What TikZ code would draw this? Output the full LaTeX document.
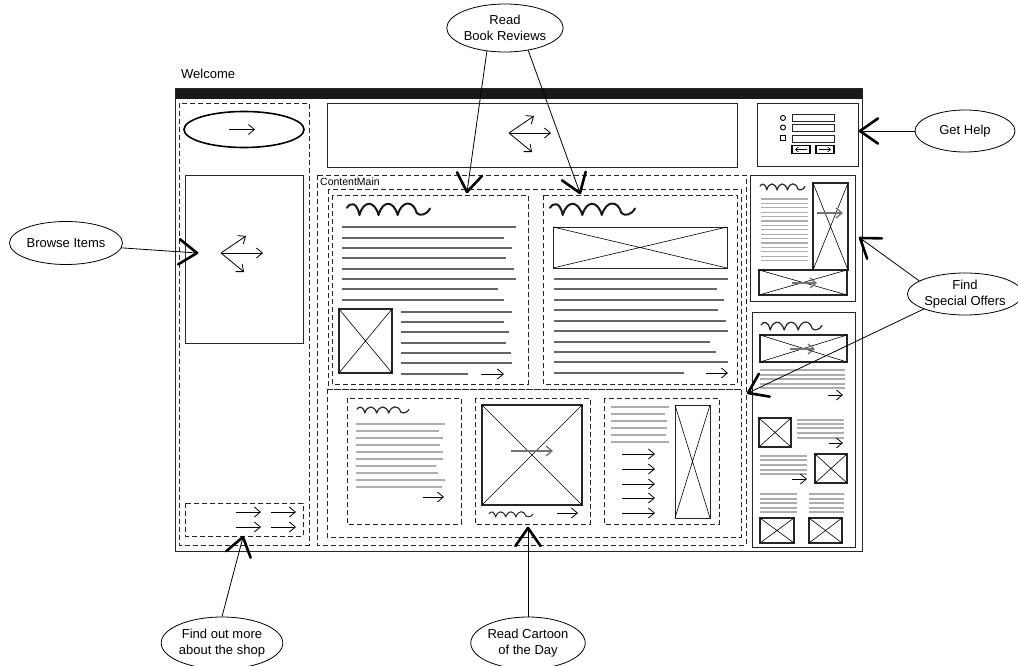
\documentclass[tikz,border=0pt]{standalone}
\usepackage{fontspec}
\setmainfont{Liberation Sans}
\usetikzlibrary{arrows.meta,shapes.geometric,calc}
\newcommand\squig[6]{\begin{scope}[shift={(#1,#2)},x=#3pt,y=-#4pt]
\draw[line width=#5,#6,line cap=round,line join=round]
 (0,0.45) .. controls (0.04,0.0) and (0.12,0.0) .. (0.15,1)
 .. controls (0.2,-0.15) and (0.33,-0.15) .. (0.38,1)
 .. controls (0.43,-0.15) and (0.56,-0.15) .. (0.61,1)
 .. controls (0.66,-0.15) and (0.8,-0.15) .. (0.84,0.85)
 .. controls (0.88,1.1) and (0.96,1.0) .. (1,0.5);
\end{scope}}
\newcommand\ximg[5]{\draw[line width=#5,draw=black!85] (#1,#2) rectangle (#3,#4);
\draw[line width=0.6pt] (#1,#2) -- (#3,#4) (#1,#4) -- (#3,#2);}
\newcommand\navcl[2]{\draw[sarr] (#1,#2) -- ++(42,0);
\draw[sarr] (#1,#2) -- ++(25,-17);
\draw[sarr] (#1,#2) -- ++(23,19);}
\newcommand\conn[2]{\draw[line width=0.8pt] (#1) -- (#2);
\draw[line width=2.6pt,line cap=round,line join=round]
  ($(#2)!22pt!35:(#1)$) -- (#2) -- ($(#2)!22pt!-35:(#1)$);}
\begin{document}
\begin{tikzpicture}[x=1pt,y=-1pt,
  sbox/.style={draw=black!85,line width=0.9pt},
  dbox/.style={draw=black!85,line width=0.9pt,dash pattern=on 5pt off 3pt},
  txt/.style={line width=1.9pt,draw=black!60},
  ltxt/.style={line width=1.2pt,draw=black!32},
  sarr/.style={-{Straight Barb[length=6pt,width=10pt]},line width=0.8pt},
  garr/.style={-{Straight Barb[length=6pt,width=10pt]},line width=1.3pt,draw=black!55},
  uc/.style={ellipse,draw,line width=0.8pt,align=center,inner sep=0pt,
     font=\fontsize{13}{16}\selectfont},
]
\useasboundingbox (0,0) rectangle (1018,666);

% window
\node[anchor=base west,inner sep=0pt,font=\fontsize{13}{16}\selectfont] (welcome) at (181,79) {Welcome};
\fill[black!90] (175,88) rectangle (862,99);
\draw[sbox] (175,88) rectangle (862,551);

% left column
\draw[dbox] (179,103) rectangle (309,545);
\draw[line width=1.6pt] (244,129.5) ellipse [x radius=60, y radius=18];
\draw[sarr] (229,129.5) -- (255,129.5);
\draw[sbox] (185,175) rectangle (303,343);
\navcl{221}{253}
\draw[dbox] (185,503) rectangle (303,536);
\draw[sarr] (236,512) -- (261,512);
\draw[sarr] (271,512) -- (296,512);
\draw[sarr] (236,527) -- (261,527);
\draw[sarr] (271,527) -- (296,527);

% header banner
\draw[sbox] (327,103) rectangle (737,167);
\navcl{509}{133}

% help box
\draw[sbox] (757,103) rectangle (858,166);
\draw[line width=0.9pt] (783,118) circle [radius=2.5];
\draw[line width=0.9pt] (783,127.5) circle [radius=2.5];
\draw[line width=0.9pt] (780.5,135.5) rectangle (785.5,140.5);
\draw[sbox] (792,114) rectangle (834,121);
\draw[sbox] (792,124.5) rectangle (834,131.5);
\draw[sbox] (792,135) rectangle (834,142);
\draw[line width=1.6pt] (792,145.5) rectangle (810,153.5);
\draw[line width=1.6pt] (816,145.5) rectangle (834,153.5);
\draw[-{Straight Barb[length=3pt,width=5pt]},line width=0.6pt] (807,149.5) -- (795,149.5);
\draw[-{Straight Barb[length=3pt,width=5pt]},line width=0.6pt] (819,149.5) -- (831,149.5);

% content main
\draw[dbox] (317,175) rectangle (746,545);
\node[anchor=north west,inner sep=0pt,font=\fontsize{10.5}{12}\selectfont] (cm) at (320,177.5) {ContentMain};
\draw[dbox] (328,189) rectangle (741,389);
\draw[dbox] (327,389) rectangle (741,537);

% left article
\draw[dbox] (332,195) rectangle (528,384);
\squig{347}{202}{83}{13}{2pt}{black!90}
\foreach \yy/\xe in {227/516,238/504,248/512,258/506,269/514,279/516,289/498,300/504}
  \draw[txt] (342,\yy) -- (\xe,\yy);
\ximg{339}{309}{392}{373}{1.2pt}
\foreach \yy/\xe in {312/512,322/504,332/509,343/506,353/511,363/512,374/468}
  \draw[txt] (401,\yy) -- (\xe,\yy);
\draw[sarr] (481,374) -- (504,374);

% right article
\draw[dbox] (543,195) rectangle (737,384);
\squig{550}{202}{85}{13}{2pt}{black!90}
\ximg{553}{227}{727}{268}{1pt}
\foreach \yy/\xe in {279/728,289/717,300/724,310/718,321/726,331/728,342/710,352/716,362/728,373/684}
  \draw[txt] (554,\yy) -- (\xe,\yy);
\draw[sarr] (706,373) -- (728,373);

% bottom box 1
\draw[dbox] (347,398) rectangle (461,524);
\squig{357}{406}{52}{7}{1.2pt}{black!85}
\foreach \yy/\xe in {424/445,431/439,438/443,445/440,452/443,459/443,466/436,473/438,480/445,487/442}
  \draw[ltxt] (356,\yy) -- (\xe,\yy);
\draw[sarr] (423,497) -- (444,497);

% bottom box 2
\draw[dbox] (475,398) rectangle (590,524);
\ximg{482}{405}{582}{505}{1.3pt}
\draw[garr] (511,451) -- (553,451);
\squig{489}{511}{44}{6}{1pt}{black!85}
\draw[sarr] (557,513) -- (578,513);

% bottom box 3
\draw[dbox] (604,398) rectangle (719,524);
\foreach \yy/\xe in {407/669,414/665,421/667,428/667,435/666,442/669}
  \draw[ltxt] (611,\yy) -- (\xe,\yy);
\foreach \yy in {454,469,484,498,513}
  \draw[sarr] (622,\yy) -- (655,\yy);
\ximg{675}{405}{710}{518}{1pt}

% sidebar top
\draw[sbox] (750,175) rectangle (855,301);
\squig{760}{183}{45}{7}{1.2pt}{black!85}
\foreach \i in {0,...,14}
  \draw[ltxt] (761,199+\i*4.4) -- (808,199+\i*4.4);
\ximg{813}{183}{848}{270}{1.2pt}
\draw[garr] (817,213) -- (843,213);
\ximg{759}{270}{847}{295}{1.2pt}
\draw[garr] (792,283) -- (817,283);

% sidebar bottom
\draw[sbox] (752,312) rectangle (855,547);
\squig{761}{321}{61}{9}{1.2pt}{black!85}
\ximg{760}{335}{847}{362}{1.2pt}
\draw[garr] (790,349) -- (815,349);
\foreach \yy in {370,375,379,384,388}
  \draw[ltxt] (760,\yy) -- (845,\yy);
\draw[sarr] (828,395) -- (843,395);
\ximg{759}{418}{791}{447}{1.2pt}
\foreach \yy in {420,424,428,433,438}
  \draw[ltxt] (797,\yy) -- (844,\yy);
\draw[sarr] (829,443) -- (843,443);
\foreach \yy in {456,460,465,470,474}
  \draw[ltxt] (760,\yy) -- (807,\yy);
\draw[sarr] (792,479) -- (807,479);
\ximg{815}{454}{847}{483}{1.2pt}
\foreach \yy in {494,499,503,508,512} {
  \draw[ltxt] (760,\yy) -- (797,\yy);
  \draw[ltxt] (809,\yy) -- (844,\yy);
}
\ximg{760}{518}{794}{543}{1.2pt}
\ximg{809}{518}{842}{543}{1.2pt}

% use cases
\node[uc,minimum width=116pt,minimum height=48pt] (rbr) at (505,28) {Read\\Book Reviews};
\node[uc,minimum width=100pt,minimum height=42pt] (help) at (965,131) {Get Help};
\node[uc,minimum width=106pt,minimum height=42pt] (offers) at (965,294) {Find\\Special Offers};
\node[uc,minimum width=113pt,minimum height=43pt] (browse) at (66,243) {Browse Items};
\node[uc,minimum width=114pt,minimum height=52pt] (shop) at (222,643) {Find out more\\about the shop};
\node[uc,minimum width=114pt,minimum height=52pt] (cartoon) at (528,643) {Read Cartoon\\of the Day};

\coordinate (t1) at (467,192);
\coordinate (t2) at (580,193);
\coordinate (th) at (860,131);
\coordinate (to1) at (860,238);
\coordinate (to2) at (748,393);
\coordinate (tb) at (197,253);
\coordinate (ts) at (243,537);
\coordinate (tc) at (528,528);
\conn{rbr.-128}{t1}
\conn{rbr.-44}{t2}
\conn{help.west}{th}
\conn{offers.164}{to1}
\conn{offers.200}{to2}
\conn{browse.-5}{tb}
\conn{shop.north}{ts}
\conn{cartoon.north}{tc}
\end{tikzpicture}
\end{document}
